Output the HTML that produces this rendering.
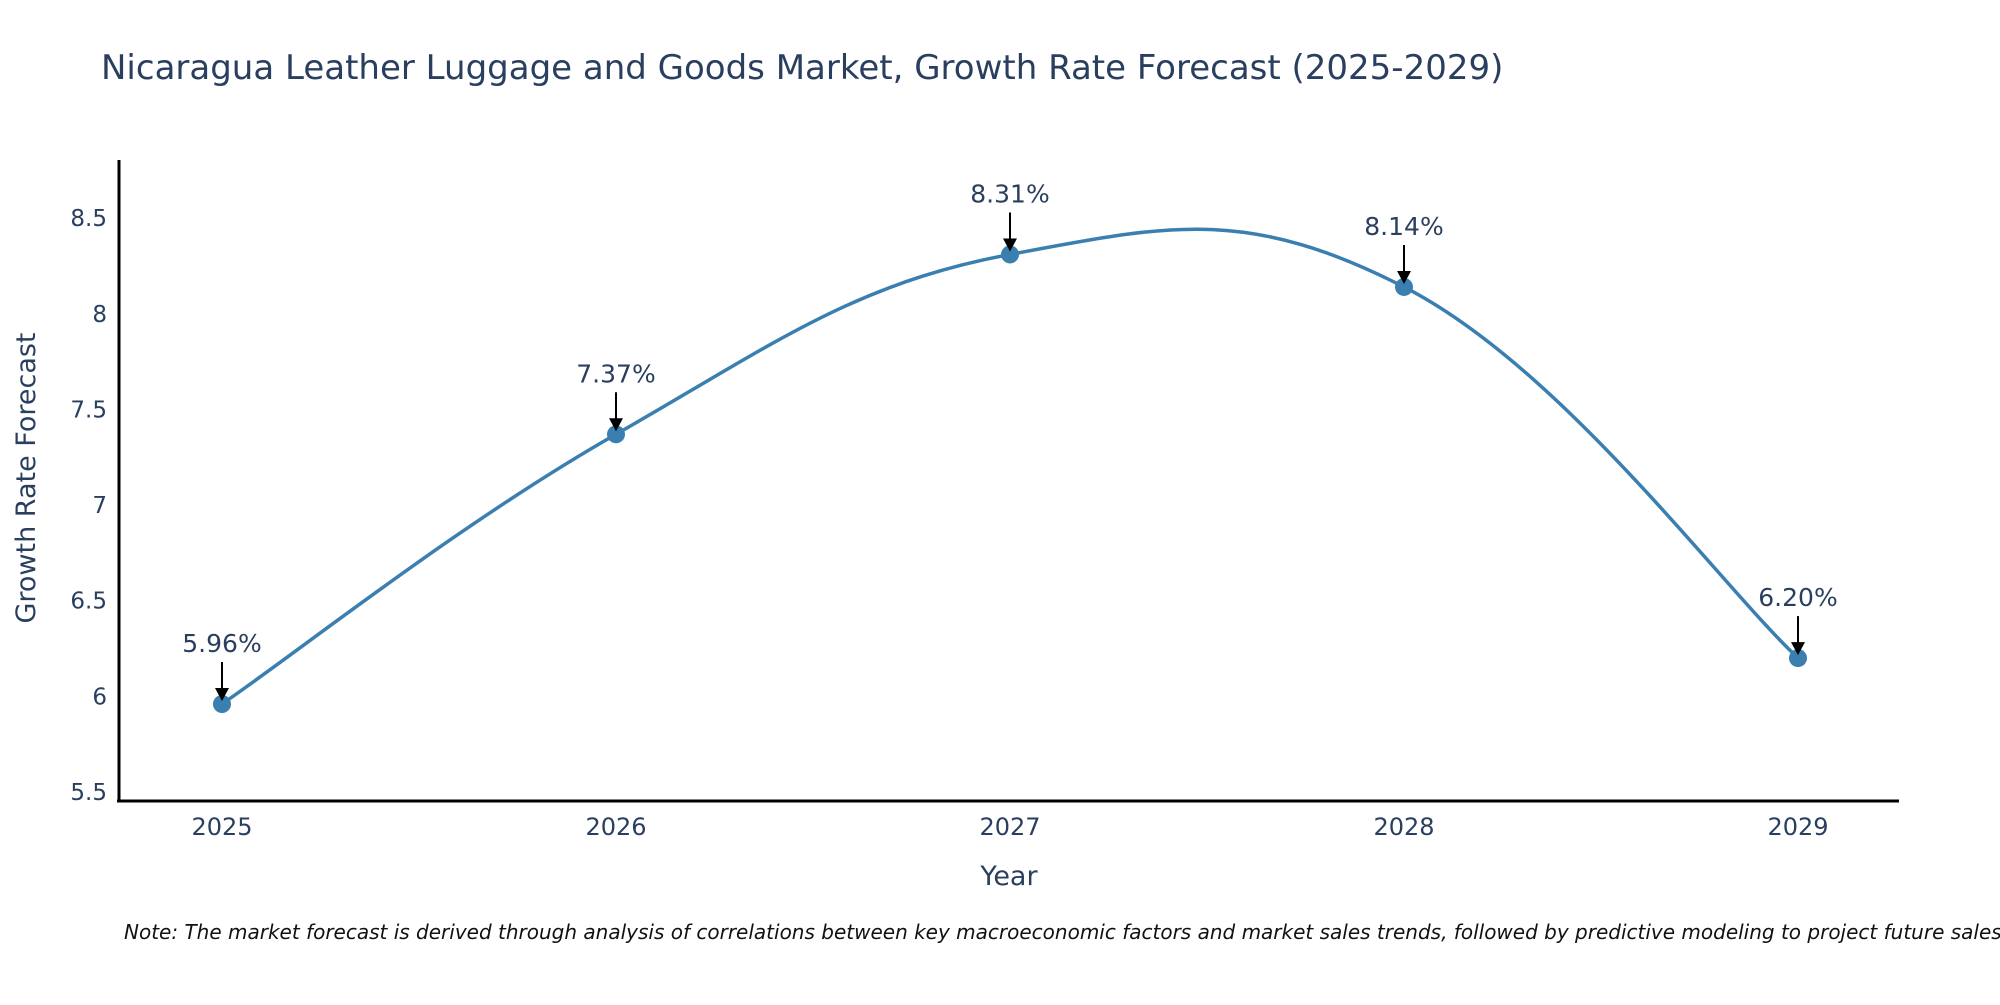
<!DOCTYPE html>
<html><head><meta charset="utf-8"><style>
html,body{margin:0;padding:0;background:#fff;}
svg text{font-family:"DejaVu Sans","Liberation Sans",sans-serif;fill:#2a3f5f;}
</style></head><body>
<svg id="chart" width="2000" height="1000" viewBox="0 0 2000 1000" xmlns="http://www.w3.org/2000/svg">
<text x="101" y="79" font-size="34">Nicaragua Leather Luggage and Goods Market, Growth Rate Forecast (2025-2029)</text>
<g id="yticks"></g>
<g id="xticks"></g>
<line x1="119" y1="160" x2="119" y2="802" stroke="#000" stroke-width="3"/>
<line x1="117" y1="801" x2="1899" y2="801" stroke="#000" stroke-width="3"/>
<text x="0" y="0" font-size="27" text-anchor="middle" transform="translate(35,478) rotate(-90)">Growth Rate Forecast</text>
<text x="1009" y="885" font-size="27" text-anchor="middle">Year</text>
<text x="124" y="939" font-size="20" font-style="italic" style="fill:#111">Note: The market forecast is derived through analysis of correlations between key macroeconomic factors and market sales trends, followed by predictive modeling to project future sales.</text>
<g id="series"></g>
<g id="annots"></g>
</svg>
<script>
const years = [2025, 2026, 2027, 2028, 2029];
const values = [5.96, 7.37, 8.31, 8.14, 6.20];
const labels = ["5.96%", "7.37%", "8.31%", "8.14%", "6.20%"];
const yTicks = [5.5, 6, 6.5, 7, 7.5, 8, 8.5];
const yTickLabels = ["5.5", "6", "6.5", "7", "7.5", "8", "8.5"];

const NS = "http://www.w3.org/2000/svg";
function xs(yr){ return 222 + (yr - 2025) * 394; }
function ys(v){ return 792 - (v - 5.5) * 191.3; }
function mk(tag, attrs, parent){ const e=document.createElementNS(NS,tag); for(const k in attrs) e.setAttribute(k,attrs[k]); parent.appendChild(e); return e; }

const yg=document.getElementById('yticks');
yTicks.forEach((t,i)=>{
  const e=mk('text',{x:107,y:ys(t)+8,'font-size':23,'text-anchor':'end'},yg);
  
  
  e.textContent=yTickLabels[i];
});
const xg=document.getElementById('xticks');
years.forEach(yr=>{
  const e=mk('text',{x:xs(yr),y:835,'font-size':24,'text-anchor':'middle'},xg);
  
  
  e.textContent=String(yr);
});

const pts=years.map((y,i)=>[xs(y),ys(values[i])]);
const s=0.2;
let d=`M${pts[0][0]},${pts[0][1]}`;
for(let i=0;i<pts.length-1;i++){
  const p0=pts[i-1]||pts[i], p1=pts[i], p2=pts[i+1], p3=pts[i+2]||p2;
  const c1=[p1[0]+(p2[0]-p0[0])*s, p1[1]+(p2[1]-p0[1])*s];
  const c2=[p2[0]-(p3[0]-p1[0])*s, p2[1]-(p3[1]-p1[1])*s];
  d+=` C${c1[0]},${c1[1]} ${c2[0]},${c2[1]} ${p2[0]},${p2[1]}`;
}
const sg=document.getElementById('series');
const line=mk('path',{d:d,fill:'none',stroke:'#3a7fb0','stroke-width':3.5},sg);


pts.forEach(p=>{
  const c=mk('circle',{cx:p[0],cy:p[1],r:9,fill:'#3a7fb0'},sg);
  
  
});

const ag=document.getElementById('annots');
pts.forEach((p,i)=>{
  const l=mk('line',{x1:p[0],y1:p[1]-42,x2:p[0],y2:p[1]-14,stroke:'#000','stroke-width':2},ag);
  
  
  const h=mk('polygon',{points:`${p[0]-7},${p[1]-16} ${p[0]+7},${p[1]-16} ${p[0]},${p[1]-3}`,fill:'#000'},ag);
  
  
  const t=mk('text',{x:p[0],y:p[1]-52,'font-size':25,'text-anchor':'middle'},ag);
  
  
  t.textContent=labels[i];
});
</script>
</body></html>
